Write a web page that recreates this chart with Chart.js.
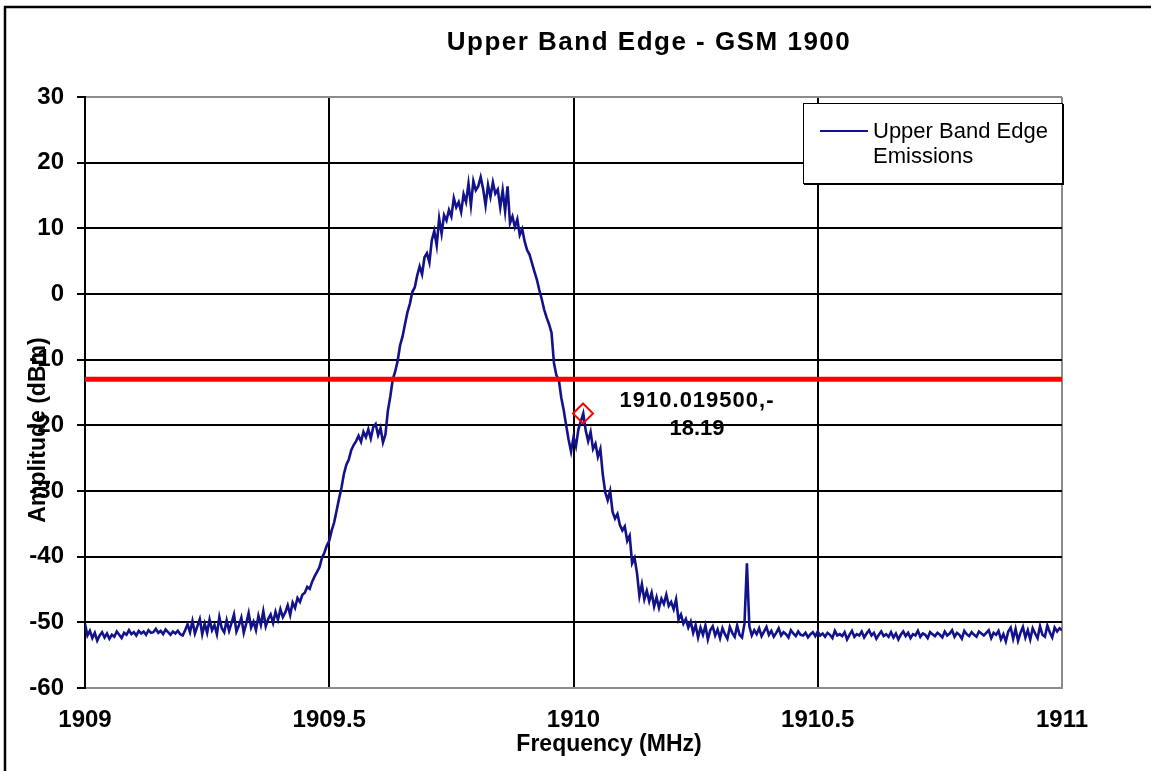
<!DOCTYPE html>
<html>
<head>
<meta charset="utf-8">
<script src="https://cdn.jsdelivr.net/npm/chart.js@4.4.1/dist/chart.umd.min.js"></script>
<style>
  body { margin: 0; background: #fff; }
  canvas { display: block; }
</style>
</head>
<body>
<canvas id="bandEdgeChart" width="1151" height="771"></canvas>
<script>
// Sweep settings of the analyzer trace (MHz)
const sweepStart = 1909;
const sweepStep = 0.005;

// Measured amplitude (dBm), one value per sweep step, 1909.000 .. 1911.000
// (each row covers 0.05 MHz)
const amplitude = [
  -50.2, -52.0, -51.3, -52.4, -51.6, -52.8, -52.0, -51.5, -52.3, -51.7,
  -52.5, -51.9, -52.2, -51.4, -51.9, -52.4, -51.6, -51.9, -51.2, -51.8,
  -51.5, -52.0, -51.3, -51.7, -51.4, -51.9, -51.2, -51.6, -51.5, -51.0,
  -51.6, -51.3, -51.8, -51.1, -51.5, -51.9, -51.4, -51.7, -51.3, -51.8,
  -52.0, -51.2, -50.3, -51.5, -49.8, -51.7, -50.6, -49.5, -51.8, -50.2,
  -51.6, -49.6, -51.2, -50.4, -51.8, -49.2, -50.9, -51.5, -49.7, -51.3,
  -50.1, -48.8, -51.4, -50.5, -49.3, -51.6, -50.2, -48.6, -50.8, -49.9,
  -51.2, -49.0, -50.4, -48.3, -50.6, -49.5, -48.8, -50.1, -48.4, -49.6,
  -48.0, -49.2, -48.5, -47.4, -48.9, -47.0, -47.8, -46.3, -46.9, -45.8,
  -45.5, -44.6, -44.9, -43.8, -43.0, -42.3, -41.6, -40.2, -39.4, -38.3,
  -37.6, -36.0, -34.8, -33.0, -31.2, -29.5, -27.4, -26.0, -25.2, -23.8,
  -23.0, -22.4, -21.6, -22.5, -21.0, -21.8, -20.6, -22.0, -20.3, -19.8,
  -21.5, -20.4, -22.6, -21.4, -17.8, -15.6, -13.0, -11.8, -10.2, -7.8,
  -6.5, -4.6, -2.8, -1.5, 0.3, 1.0, 2.8, 4.2, 3.0, 5.6,
  6.2, 4.8, 8.2, 9.6, 7.4, 11.5, 9.2, 12.0, 11.2, 12.8,
  11.8, 14.6, 13.2, 14.0, 12.5, 15.2, 14.0, 16.8, 13.5, 17.2,
  15.8, 16.4, 17.8, 16.0, 13.5, 16.6, 14.8, 17.0, 15.3, 15.9,
  13.2, 15.8, 12.6, 16.4, 10.8, 11.8, 10.2, 11.4, 9.0, 9.9,
  8.0, 6.7, 6.0, 4.7, 3.4, 2.2, 0.6, -0.8, -2.4, -3.6,
  -4.6, -5.9, -10.5, -12.4, -13.1, -15.8, -17.7, -20.0, -22.2, -24.0,
  -21.8, -23.2, -20.6, -19.4, -18.2, -20.8, -22.4, -21.0, -23.6, -22.8,
  -24.8, -23.6, -27.5, -30.2, -31.4, -30.0, -33.2, -34.2, -33.5, -35.2,
  -36.0, -35.4, -37.6, -36.8, -41.0, -40.2, -42.5, -46.0, -44.2, -46.5,
  -45.2, -46.8, -45.5, -47.6, -46.2, -47.8, -46.4, -47.2, -45.8, -47.5,
  -46.9, -48.0, -46.5, -49.6, -48.8, -50.2, -49.5, -50.8, -49.9, -51.6,
  -50.4, -52.3, -50.8, -51.9, -50.5, -52.6, -51.2, -50.6, -52.0, -51.1,
  -52.4, -50.9, -51.8, -52.5, -50.7, -51.6, -52.2, -50.5, -51.9, -52.3,
  -50.2, -41.0, -50.6, -52.0, -51.2, -51.8, -50.9, -52.1, -51.4, -50.7,
  -51.9, -51.3, -52.2, -51.6, -50.9, -52.0, -51.5, -51.8, -52.3, -51.2,
  -51.7, -52.1, -51.4, -51.9, -52.0, -51.6, -52.3, -51.8, -51.5, -52.1,
  -51.4, -52.0, -51.7, -52.2, -51.6, -51.9, -52.4, -51.3, -52.0, -51.8,
  -52.1, -51.5, -52.6, -51.9, -51.3, -52.2, -51.8, -52.0, -51.4, -52.3,
  -51.7, -51.2, -52.0, -51.6, -52.5, -51.9, -51.4, -52.1, -51.8, -52.2,
  -51.5, -52.3, -51.7, -52.6, -51.9, -51.4, -52.1, -51.6, -52.4, -51.8,
  -52.0, -51.3, -52.2, -51.7, -51.9, -52.4, -51.5, -51.8, -52.1, -51.6,
  -51.9, -52.3, -51.4, -52.0, -51.7, -51.2, -52.2, -51.6, -51.9, -52.5,
  -51.3, -51.8, -52.1, -51.5, -51.9, -52.2, -51.4, -51.7, -52.0, -51.6,
  -51.2, -52.4, -51.6, -51.9, -51.3, -52.6, -51.8, -52.9, -51.4, -50.8,
  -52.5, -51.0, -52.8, -51.6, -50.7, -52.3, -51.2, -52.6, -50.9, -51.7,
  -52.4, -50.6, -51.9, -52.2, -50.5, -51.5, -52.3, -50.8, -51.4, -50.9,
  -51.2
];

// Limit line and marker
const limitFreq = [1909, 1911];
const limitAmp = [-13, -13];
const markerFreq = [1910.0195];
const markerAmp = [-18.19];

// Axis ticks
const xTicks = [1909, 1909.5, 1910, 1910.5, 1911];
const yMin = -60, yMax = 30, yStep = 10;

const tracePoints = amplitude.map((a, i) => ({ x: +(sweepStart + i * sweepStep).toFixed(3), y: a }));
const limitPoints = limitFreq.map((f, i) => ({ x: f, y: limitAmp[i] }));
const markerPoints = markerFreq.map((f, i) => ({ x: f, y: markerAmp[i] }));

const FONT = '"Liberation Sans", Arial, sans-serif';

// Draws title, axis titles, legend box, marker label and the frame
const decorPlugin = {
  id: 'decor',
  afterDraw(chart) {
    const ctx = chart.ctx;
    const xs = chart.scales.x, ys = chart.scales.y;
    ctx.save();

    // outer frame (top and left edges)
    ctx.strokeStyle = '#000';
    ctx.lineWidth = 2.5;
    ctx.beginPath();
    ctx.moveTo(5, 771);
    ctx.lineTo(5, 7);
    ctx.lineTo(1151, 7);
    ctx.stroke();

    ctx.fillStyle = '#000';
    ctx.textAlign = 'center';
    ctx.textBaseline = 'middle';

    // title
    ctx.font = 'bold 26px ' + FONT;
    ctx.letterSpacing = '1.5px';
    ctx.fillText('Upper Band Edge - GSM 1900', 649, 43);
    ctx.letterSpacing = '0px';

    // axis titles
    ctx.font = 'bold 23px ' + FONT;
    ctx.fillText('Frequency (MHz)', 609, 745);
    ctx.save();
    ctx.translate(39, 430);
    ctx.rotate(-Math.PI / 2);
    ctx.fillText('Amplitude (dBm)', 0, 0);
    ctx.restore();

    // marker label
    const mx = xs.getPixelForValue(markerFreq[0]);
    const my = ys.getPixelForValue(markerAmp[0]);
    const txt = markerFreq[0].toFixed(6) + ',' + markerAmp[0];
    const cut = txt.indexOf('-') + 1;
    ctx.font = 'bold 22px ' + FONT;
    ctx.letterSpacing = '1px';
    ctx.fillText(txt.slice(0, cut), mx + 114, my - 13);
    ctx.letterSpacing = '0px';
    ctx.fillText(txt.slice(cut), mx + 114, my + 15);

    // legend
    const lx = 803, ly = 103, lw = 259, lh = 80;
    ctx.fillStyle = '#fff';
    ctx.fillRect(lx, ly, lw, lh);
    ctx.strokeStyle = '#000';
    ctx.lineWidth = 1;
    ctx.strokeRect(lx + 0.5, ly + 0.5, lw, lh);
    ctx.lineWidth = 2;
    ctx.beginPath();
    ctx.moveTo(lx + 1, ly + lh + 1);
    ctx.lineTo(lx + lw + 1, ly + lh + 1);
    ctx.lineTo(lx + lw + 1, ly + 1);
    ctx.stroke();
    ctx.strokeStyle = '#12128a';
    ctx.lineWidth = 2;
    ctx.beginPath();
    ctx.moveTo(820, 131);
    ctx.lineTo(868, 131);
    ctx.stroke();
    ctx.fillStyle = '#000';
    ctx.textAlign = 'left';
    ctx.font = '22px ' + FONT;
    ctx.fillText('Upper Band Edge', 873, 132);
    ctx.fillText('Emissions', 873, 157);

    ctx.restore();
  }
};

new Chart(document.getElementById('bandEdgeChart'), {
  type: 'line',
  data: {
    datasets: [
      {
        label: 'Marker',
        data: markerPoints,
        showLine: false,
        pointStyle: 'rectRot',
        pointRadius: 10,
        borderColor: '#ff0000',
        backgroundColor: 'rgba(0,0,0,0)',
        pointBorderWidth: 2
      },
      {
        label: 'Limit',
        data: limitPoints,
        borderColor: '#ff0000',
        borderWidth: 5,
        pointRadius: 0
      },
      {
        label: 'Upper Band Edge Emissions',
        data: tracePoints,
        borderColor: '#12128a',
        borderWidth: 2.6,
        pointRadius: 0,
        tension: 0
      }
    ]
  },
  options: {
    responsive: false,
    animation: false,
    layout: { padding: { left: 0, top: 97, right: 89, bottom: 0 } },
    plugins: {
      legend: { display: false },
      title: { display: false },
      tooltip: { enabled: false }
    },
    scales: {
      x: {
        type: 'linear',
        min: xTicks[0],
        max: xTicks[xTicks.length - 1],
        afterBuildTicks: (scale) => { scale.ticks = xTicks.map(v => ({ value: v })); },
        afterFit: (scale) => { scale.height = 83; },
        grid: {
          color: (c) => (c.tick && c.tick.value === 1911 ? '#8c8c8c' : '#000'),
          lineWidth: 2,
          drawTicks: false
        },
        border: { color: '#8c8c8c', width: 2 },
        ticks: {
          color: '#000',
          font: { family: FONT, size: 24, weight: 'bold' },
          padding: 18,
          maxRotation: 0,
          callback: (v) => String(v)
        }
      },
      y: {
        min: yMin,
        max: yMax,
        afterFit: (scale) => { scale.width = 85; },
        grid: {
          color: (c) => (c.tick && (c.tick.value === yMax || c.tick.value === yMin) ? '#8c8c8c' : '#000'),
          tickColor: '#000',
          lineWidth: 2,
          tickLength: 8
        },
        border: { color: '#000', width: 2 },
        ticks: {
          stepSize: yStep,
          color: '#000',
          font: { family: FONT, size: 24, weight: 'bold' },
          padding: 13
        }
      }
    }
  },
  plugins: [decorPlugin]
});
</script>
</body>
</html>
